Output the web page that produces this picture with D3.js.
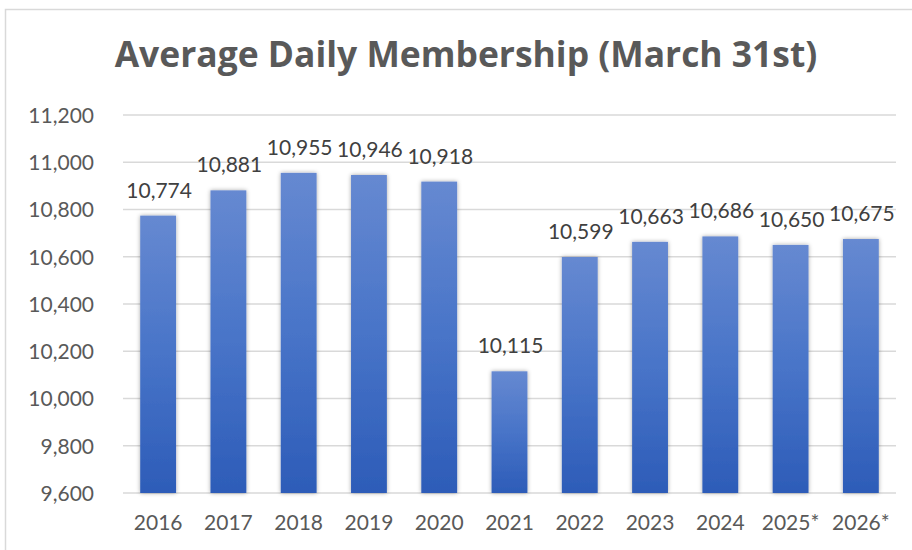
<!DOCTYPE html>
<html>
<head>
<meta charset="utf-8">
<script src="https://cdn.jsdelivr.net/npm/d3@7"></script>
<style>
  html, body { margin: 0; padding: 0; background: #fff; }
  svg { display: block; }
</style>
</head>
<body>
<svg id="chart" width="912" height="550"></svg>
<script>
const categories = ["2016", "2017", "2018", "2019", "2020", "2021", "2022", "2023", "2024", "2025*", "2026*"];
const values = [10774, 10881, 10955, 10946, 10918, 10115, 10599, 10663, 10686, 10650, 10675];
const yTicks = [9600, 9800, 10000, 10200, 10400, 10600, 10800, 11000, 11200];
const title = "Average Daily Membership (March 31st)";

const svg = d3.select("#chart");
const W = 912, H = 550;
const margin = { left: 123, right: 16, top: 115, bottom: 57 };
const plotL = margin.left, plotR = W - margin.right, plotT = margin.top, plotB = H - margin.bottom;

const fontFam = "Lato, 'Open Sans', sans-serif";

// chart border
svg.append("rect")
  .attr("x", 5.5).attr("y", 9.5)
  .attr("width", 2000).attr("height", 2000)
  .attr("fill", "#fff").attr("stroke", "#d9d9d9").attr("stroke-width", 1.5);

const defs = svg.append("defs");
const grad = defs.append("linearGradient").attr("id", "barGrad")
  .attr("x1", 0).attr("y1", 0).attr("x2", 0).attr("y2", 1);
grad.append("stop").attr("offset", "0%").attr("stop-color", "#6689d1");
grad.append("stop").attr("offset", "50%").attr("stop-color", "#4874c8");
grad.append("stop").attr("offset", "100%").attr("stop-color", "#2d5cb8");

const filt = defs.append("filter").attr("id", "shadow")
  .attr("x", "-30%").attr("y", "-10%").attr("width", "160%").attr("height", "120%");
filt.append("feDropShadow").attr("dx", 0).attr("dy", 0).attr("stdDeviation", 2.2)
  .attr("flood-color", "#000").attr("flood-opacity", 0.35);

const x = d3.scaleBand().domain(categories).range([plotL, plotR]).paddingInner(0.49).paddingOuter(0.245);
const y = d3.scaleLinear().domain([9600, 11200]).range([plotB, plotT]);

// gridlines
svg.append("g").selectAll("line").data(yTicks).join("line")
  .attr("x1", plotL).attr("x2", plotR)
  .attr("y1", d => y(d)).attr("y2", d => y(d))
  .attr("stroke", "#d9d9d9").attr("stroke-width", 1.5);

// y axis labels
const yAxis = d3.axisLeft(y).tickValues(yTicks).tickFormat(d3.format(",")).tickSize(0).tickPadding(0);
const yg = svg.append("g").attr("transform", `translate(${94},0)`).call(yAxis);
yg.select(".domain").remove();
yg.selectAll("text").attr("font-family", fontFam).attr("font-size", 21).attr("fill", "#595959").attr("dy", "0.35em");

// x axis labels
const xAxis = d3.axisBottom(x).tickSize(0).tickPadding(0);
const xg = svg.append("g").attr("transform", `translate(0,${plotB})`).call(xAxis);
xg.select(".domain").remove();
xg.selectAll("text").attr("font-family", fontFam).attr("font-size", 21).attr("fill", "#595959")
  .attr("dy", null).attr("y", 37);

// bars
svg.append("g").selectAll("rect").data(values).join("rect")
  .attr("x", (d, i) => x(categories[i]))
  .attr("width", x.bandwidth())
  .attr("y", d => y(d))
  .attr("height", d => plotB - y(d))
  .attr("fill", "url(#barGrad)")
  .attr("filter", "url(#shadow)");

// value labels
svg.append("g").selectAll("text").data(values).join("text")
  .attr("x", (d, i) => x(categories[i]) + x.bandwidth() / 2 + 1)
  .attr("y", d => y(d) - 18)
  .attr("text-anchor", "middle")
  .attr("font-family", fontFam).attr("font-size", 21).attr("fill", "#404040")
  .text(d => d3.format(",")(d));

// title, sized so its width matches the reference
const t = svg.append("text")
  .attr("x", 466).attr("y", 67)
  .attr("text-anchor", "middle")
  .attr("font-family", "'Open Sans', Lato, sans-serif").attr("font-weight", "bold").attr("font-size", 32)
  .attr("fill", "#595959")
  .text(title);
const len = t.node().getComputedTextLength();
if (len > 0) t.attr("font-size", Math.min(40, Math.max(26, 32 * 703 / len)));
</script>
</body>
</html>
